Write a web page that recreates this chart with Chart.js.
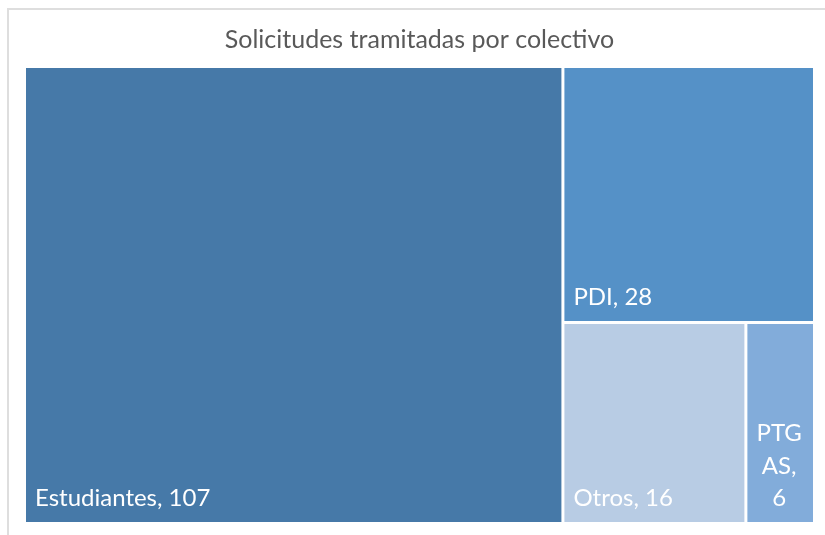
<!DOCTYPE html>
<html>
<head>
<meta charset="utf-8">
<script src="https://cdn.jsdelivr.net/npm/chart.js@4/dist/chart.umd.min.js"></script>
<style>
  html, body { margin: 0; padding: 0; background: #fff; overflow: hidden; }
  #frame { position: absolute; left: 7px; top: 8px; width: 900px; height: 600px; border: 2px solid #dedede; }
  #chart { position: absolute; left: 0; top: 0; }
</style>
</head>
<body>
<div id="frame"></div>
<canvas id="chart" width="825" height="535"></canvas>
<script>
const categories = ['Estudiantes', 'PDI', 'Otros', 'PTGAS'];
const requests = [107, 28, 16, 6];
const cellColors = ['#4679A8', '#5591C7', '#B8CCE4', '#82ACDA'];
const chartTitle = 'Solicitudes tramitadas por colectivo';

const LABEL_FONT = '24px Lato';
const LABEL_PAD = 10.5;
const LABEL_BOTTOM = 17.5;
const LINE_GAP = 32.5;

// squarified treemap, result in 0..1 units; ratio = width/height of the plot in px
function squarify(values, ratio) {
  const total = values.reduce((s, v) => s + v, 0);
  const area = values.map(v => v / total * ratio);
  const order = values.map((v, i) => i).sort((a, b) => values[b] - values[a]);
  const rects = [];
  let box = {x: 0, y: 0, w: ratio, h: 1};

  function worst(row) {
    const side = Math.min(box.w, box.h);
    const sum = row.reduce((s, i) => s + area[i], 0);
    const thick = sum / side;
    return Math.max(...row.map(i => {
      const len = area[i] / thick;
      return Math.max(len / thick, thick / len);
    }));
  }
  function layRow(row) {
    const sum = row.reduce((s, i) => s + area[i], 0);
    if (box.w >= box.h) {
      const thick = sum / box.h;
      let y = box.y;
      row.forEach(i => {
        const len = area[i] / thick;
        rects[i] = {x0: box.x, x1: box.x + thick, y0: y, y1: y + len};
        y += len;
      });
      box = {x: box.x + thick, y: box.y, w: box.w - thick, h: box.h};
    } else {
      const thick = sum / box.w;
      let x = box.x;
      row.forEach(i => {
        const len = area[i] / thick;
        rects[i] = {x0: x, x1: x + len, y0: box.y, y1: box.y + thick};
        x += len;
      });
      box = {x: box.x, y: box.y + thick, w: box.w, h: box.h - thick};
    }
  }

  let row = [];
  order.forEach(i => {
    if (row.length && worst(row.concat(i)) > worst(row)) {
      layRow(row);
      row = [];
    }
    row.push(i);
  });
  if (row.length) layRow(row);
  return rects.map(r => ({x0: r.x0 / ratio, x1: r.x1 / ratio, y0: r.y0, y1: r.y1}));
}

class TreemapController extends Chart.DatasetController {
  update(mode) {
    const meta = this._cachedMeta;
    this.updateElements(meta.data, 0, meta.data.length, mode);
  }
  updateElements(cells, start, count, mode) {
    const area = this.chart.chartArea;
    if (!area) return;
    const {xScale, yScale} = this._cachedMeta;
    const rects = squarify(this.getDataset().data, (area.right - area.left) / (area.bottom - area.top));
    for (let i = start; i < start + count; i++) {
      const r = rects[i];
      const left = xScale.getPixelForValue(r.x0);
      const right = xScale.getPixelForValue(r.x1);
      const top = yScale.getPixelForValue(r.y0);
      const bottom = yScale.getPixelForValue(r.y1);
      this.updateElement(cells[i], i, {
        x: (left + right) / 2,
        width: right - left,
        y: top,
        base: bottom,
        height: bottom - top,
        horizontal: false,
        borderSkipped: {},
        inflateAmount: 0,
        enableBorderRadius: false,
        options: this.resolveDataElementOptions(i, mode)
      }, mode);
    }
  }
}
TreemapController.id = 'treemapLite';
TreemapController.defaults = {dataElementType: 'bar', datasetElementType: false};
Chart.register(TreemapController);

// wrap words; a word that has to be split closes its own line
function wrapText(ctx, text, maxW) {
  const lines = [];
  let cur = '';
  text.split(' ').forEach(word => {
    const tryLine = cur ? cur + ' ' + word : word;
    if (ctx.measureText(tryLine).width <= maxW) { cur = tryLine; return; }
    if (cur) { lines.push(cur); cur = ''; }
    if (ctx.measureText(word).width <= maxW) { cur = word; return; }
    let chunk = '';
    for (const ch of word) {
      if (chunk && ctx.measureText(chunk + ch).width > maxW) { lines.push(chunk); chunk = ''; }
      chunk += ch;
    }
    lines.push(chunk);
  });
  if (cur) lines.push(cur);
  return lines;
}

const cellLabels = {
  id: 'cellLabels',
  afterDatasetsDraw(chart) {
    const ctx = chart.ctx;
    const meta = chart.getDatasetMeta(0);
    ctx.save();
    ctx.font = LABEL_FONT;
    ctx.fillStyle = '#ffffff';
    ctx.textBaseline = 'alphabetic';
    meta.data.forEach((cell, i) => {
      const {x, base, width} = cell.getProps(['x', 'base', 'width']);
      const left = x - width / 2;
      const lines = wrapText(ctx, categories[i] + ', ' + requests[i], width - 2 * LABEL_PAD);
      lines.forEach((line, k) => {
        const ly = base - LABEL_BOTTOM - (lines.length - 1 - k) * LINE_GAP;
        if (lines.length > 1) {
          ctx.textAlign = 'center';
          ctx.fillText(line, x - 1, ly);
        } else {
          ctx.textAlign = 'left';
          ctx.fillText(line, left + LABEL_PAD, ly);
        }
      });
    });
    ctx.restore();
  }
};

new Chart(document.getElementById('chart'), {
  type: 'treemapLite',
  data: {
    labels: categories,
    datasets: [{
      label: chartTitle,
      data: requests,
      backgroundColor: cellColors,
      borderColor: '#ffffff',
      borderWidth: 1.5
    }]
  },
  options: {
    responsive: false,
    animation: false,
    events: [],
    layout: {padding: {left: 24.5, right: 10.5, top: 0, bottom: 11.5}},
    scales: {
      x: {type: 'linear', min: 0, max: 1, display: false},
      y: {type: 'linear', min: 0, max: 1, reverse: true, display: false}
    },
    plugins: {
      legend: {display: false},
      tooltip: {enabled: false},
      title: {
        display: true,
        text: chartTitle,
        color: '#595959',
        font: {family: 'Lato', size: 25, weight: 'normal'},
        padding: {top: 25.3, bottom: 11.2}
      }
    }
  },
  plugins: [cellLabels]
});
</script>
</body>
</html>
